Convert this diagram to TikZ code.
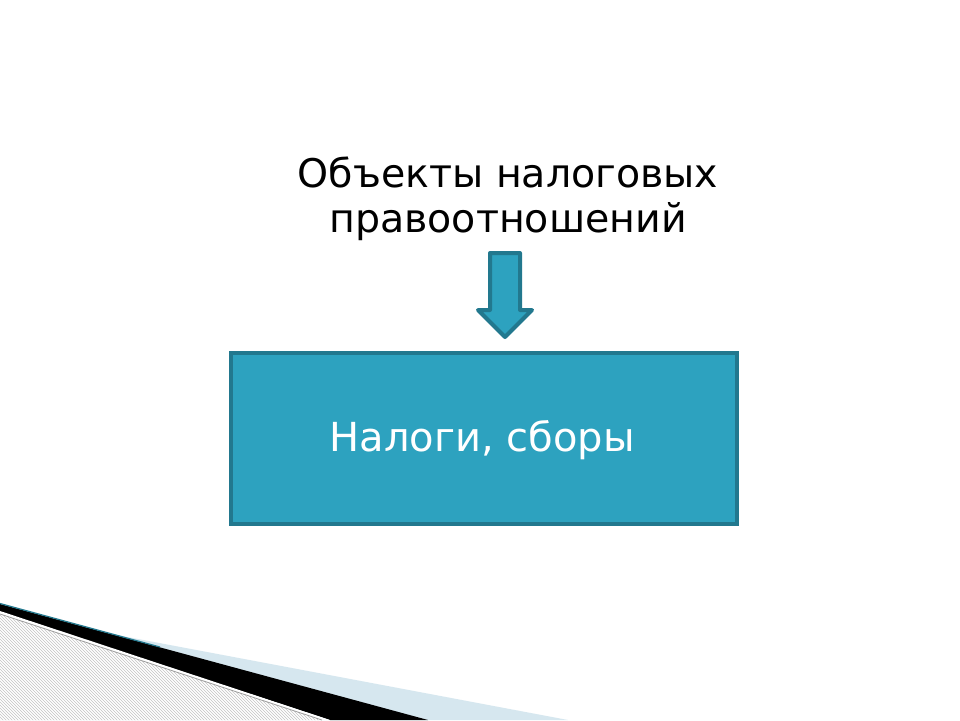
\documentclass[tikz,border=0pt]{standalone}
\usepackage{fontspec}
\setmainfont{DejaVu Sans}
\usetikzlibrary{patterns}
\definecolor{boxfill}{HTML}{2DA2BF}
\definecolor{boxline}{HTML}{22788E}
\definecolor{lightband}{HTML}{D6E7EF}
\definecolor{hatchgrey}{HTML}{C4C4C4}
\tikzset{
  blockbox/.style={draw=boxline, line width=4pt, fill=boxfill, minimum width=506pt, minimum height=171pt, inner sep=0pt},
  titletext/.style={font=\fontsize{39.5}{45}\selectfont, align=center, text=black, inner sep=0pt},
  boxtext/.style={font=\fontsize{40}{46}\selectfont, text=white, inner sep=0pt},
  arrowshape/.style={draw=boxline, line width=4pt, fill=boxfill, line join=round}
}
\begin{document}
\begin{tikzpicture}[x=1pt,y=-1pt]
\useasboundingbox (0,0) rectangle (960,720);
\fill[white] (0,0) rectangle (960,720);
% bottom-left decoration
\fill[lightband] (0,613) -- (568,720) -- (0,720) -- cycle;
\fill[black] (0,604) -- (428,720) -- (330,720) -- (0,612) -- cycle;
\fill[white] (0,611) -- (330,720) -- (0,720) -- cycle;
\fill[pattern=north west lines, pattern color=hatchgrey] (0,614) -- (322,720) -- (0,720) -- cycle;
\draw[hatchgrey!80!black, line width=0.8pt] (0,614) -- (322,720);
\draw[boxline, line width=1.2pt] (0,603.5) -- (160,647);
% title
\node[titletext] (title) at (508,199) {Объекты налоговых\\правоотношений};
% arrow
\coordinate (atop) at (505,252);
\draw[arrowshape] (490,253) -- (520,253) -- (520,310) -- (532,310) -- (505,337) -- (478,310) -- (490,310) -- cycle;
% box
\node[blockbox] (box) at (484,438) {};
\node[boxtext] (boxlabel) at (482,440) {Налоги, сборы};
\end{tikzpicture}
\end{document}
